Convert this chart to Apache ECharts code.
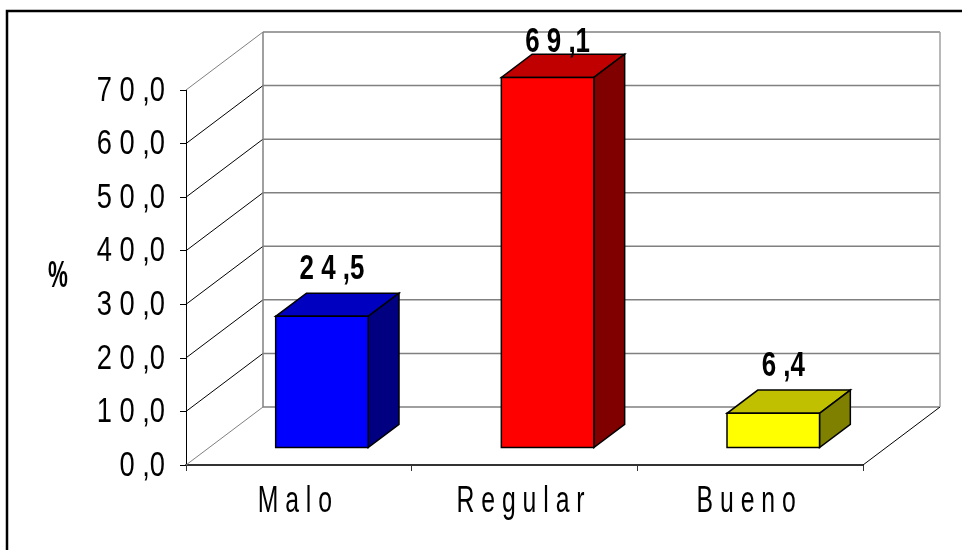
<!DOCTYPE html>
<html>
<head>
<meta charset="utf-8">
<script src="https://cdn.jsdelivr.net/npm/echarts@6/dist/echarts.min.js"></script>
<style>
html, body { margin: 0; padding: 0; background: #fff; }
#main { width: 962px; height: 550px; }
</style>
</head>
<body>
<div id="main"></div>
<script>
// datos
var categorias = ['Malo', 'Regular', 'Bueno'];
var valores = [24.5, 69.1, 6.4];
var yTicks = [0, 10, 20, 30, 40, 50, 60, 70];

// colores de cada barra: frente, tapa, lado
var colFrente = ['#0000ff', '#ff0000', '#ffff00'];
var colTapa = ['#0000c0', '#c00000', '#c0c000'];
var colLado = ['#000080', '#800000', '#808000'];

var FONT = "'Liberation Sans', Arial, sans-serif";
var DX = 77, DY = 58; // profundidad del efecto 3D

// "70,0" -> "7 0 ,0"
function espaciado(s) {
    return s.split('').join(' ').replace(/ , /g, ' ,');
}
function coma(v) {
    return v.toFixed(1).replace('.', ',');
}

// texto angosto (fuente tipo Arial Narrow)
function texto(s, px, py, opts) {
    return {
        type: 'text', x: px, y: py, scaleX: opts.scaleX,
        style: { text: s, x: 0, y: 0, align: opts.align || 'center', verticalAlign: 'middle',
                 fill: '#000', fontFamily: FONT, fontSize: opts.size, fontWeight: opts.weight || 'normal' }
    };
}

var chart = echarts.init(document.getElementById('main'));

// paredes: diagonal de la pared izquierda, linea del fondo y etiqueta del eje
function renderParedes(params, api) {
    var cs = params.coordSys;
    var v = api.value(1);
    var y = api.coord([0, v])[1];
    var y0 = api.coord([0, yTicks[0]])[1];
    var xa = cs.x, xb = cs.x + cs.width;
    var vmax = yTicks[yTicks.length - 1];
    var borde = (v === yTicks[0] || v === vmax);
    var children = [
        { type: 'line', shape: { x1: xa, y1: y, x2: xa + DX, y2: y - DY },
          style: { stroke: borde ? '#808080' : '#000', lineWidth: 1 } },
        { type: 'line', shape: { x1: xa + DX, y1: y - DY, x2: xb + DX, y2: y - DY },
          style: { stroke: '#808080', lineWidth: 1.5 } },
        texto(espaciado(coma(v)), xa - 21, y + 1, { size: 35, scaleX: 0.78, align: 'right' })
    ];
    if (v === yTicks[0]) {
        children.push({ type: 'line', shape: { x1: xb, y1: y, x2: xb + DX, y2: y - DY },
            style: { stroke: '#000', lineWidth: 1 } });
    }
    if (v === vmax) {
        children.push({ type: 'line', shape: { x1: xa + DX, y1: y - DY, x2: xa + DX, y2: y0 - DY },
            style: { stroke: '#808080', lineWidth: 1.5 } });
        children.push({ type: 'line', shape: { x1: xb + DX, y1: y - DY, x2: xb + DX, y2: y0 - DY },
            style: { stroke: '#a0a0a0', lineWidth: 1.5 } });
    }
    return { type: 'group', children: children };
}

// barras con frente, tapa y lado
function renderBarras(params, api) {
    var i = api.value(0), v = api.value(1);
    var base = api.coord([i, 0]), top = api.coord([i, v]);
    var band = api.size([1, 0])[0];
    var w = band * 0.41;
    var ox = DX * 0.3, oy = DY * 0.3, bx = DX * 0.4, by = DY * 0.4;
    var xa = base[0] - w / 2 + ox, xb = xa + w;
    var yb = base[1] - oy, yt = top[1] - oy;
    var labelY = Math.max(yt - by - 24, params.coordSys.y - 48);
    var borde = { stroke: '#000', lineWidth: 1.5, lineJoin: 'miter' };
    return {
        type: 'group',
        children: [
            { type: 'polygon', shape: { points: [[xa, yt], [xb, yt], [xb + bx, yt - by], [xa + bx, yt - by]] },
              style: Object.assign({ fill: colTapa[i] }, borde) },
            { type: 'polygon', shape: { points: [[xb, yt], [xb + bx, yt - by], [xb + bx, yb - by], [xb, yb]] },
              style: Object.assign({ fill: colLado[i] }, borde) },
            { type: 'rect', shape: { x: xa, y: yt, width: w, height: yb - yt },
              style: Object.assign({ fill: colFrente[i] }, borde) },
            texto(espaciado(coma(v)), base[0] + ox + 10, labelY, { size: 35, scaleX: 0.74, weight: 'bold' }),
            texto(espaciado(categorias[i]), base[0] - 4, base[1] + 37, { size: 37, scaleX: 0.67 })
        ]
    };
}

var option = {
    backgroundColor: '#fff',
    animation: false,
    grid: { left: 186, right: 99, top: 90, bottom: 85 },
    xAxis: {
        type: 'category',
        data: categorias,
        axisLine: { lineStyle: { color: '#333', width: 2 } },
        axisTick: { show: true, length: 6, lineStyle: { color: '#333', width: 1 } },
        axisLabel: { show: false },
        splitLine: { show: false }
    },
    yAxis: {
        type: 'value',
        min: 0,
        max: 70,
        interval: 10,
        axisLine: { show: true, lineStyle: { color: '#000', width: 1 } },
        axisTick: { show: true, length: 6, lineStyle: { color: '#000', width: 1 } },
        axisLabel: { show: false },
        splitLine: { show: false }
    },
    graphic: [
        {
            type: 'rect', silent: true,
            shape: { x: 7, y: 11, width: 1000, height: 600 },
            style: { fill: null, stroke: '#000', lineWidth: 2.5 }
        },
        {
            type: 'text', silent: true, x: 58, y: 277, scaleX: 0.62,
            style: { text: '%', x: 0, y: 0, align: 'center', verticalAlign: 'middle',
                     fill: '#000', fontFamily: FONT, fontSize: 36, fontWeight: 'bold' }
        }
    ],
    series: [
        {
            type: 'custom',
            z: 1,
            renderItem: renderParedes,
            encode: { x: 0, y: 1 },
            data: yTicks.map(function (v) { return [0, v]; })
        },
        {
            type: 'custom',
            z: 3,
            renderItem: renderBarras,
            encode: { x: 0, y: 1 },
            data: valores.map(function (v, i) { return [i, v]; })
        }
    ]
};
chart.setOption(option);
</script>
</body>
</html>
